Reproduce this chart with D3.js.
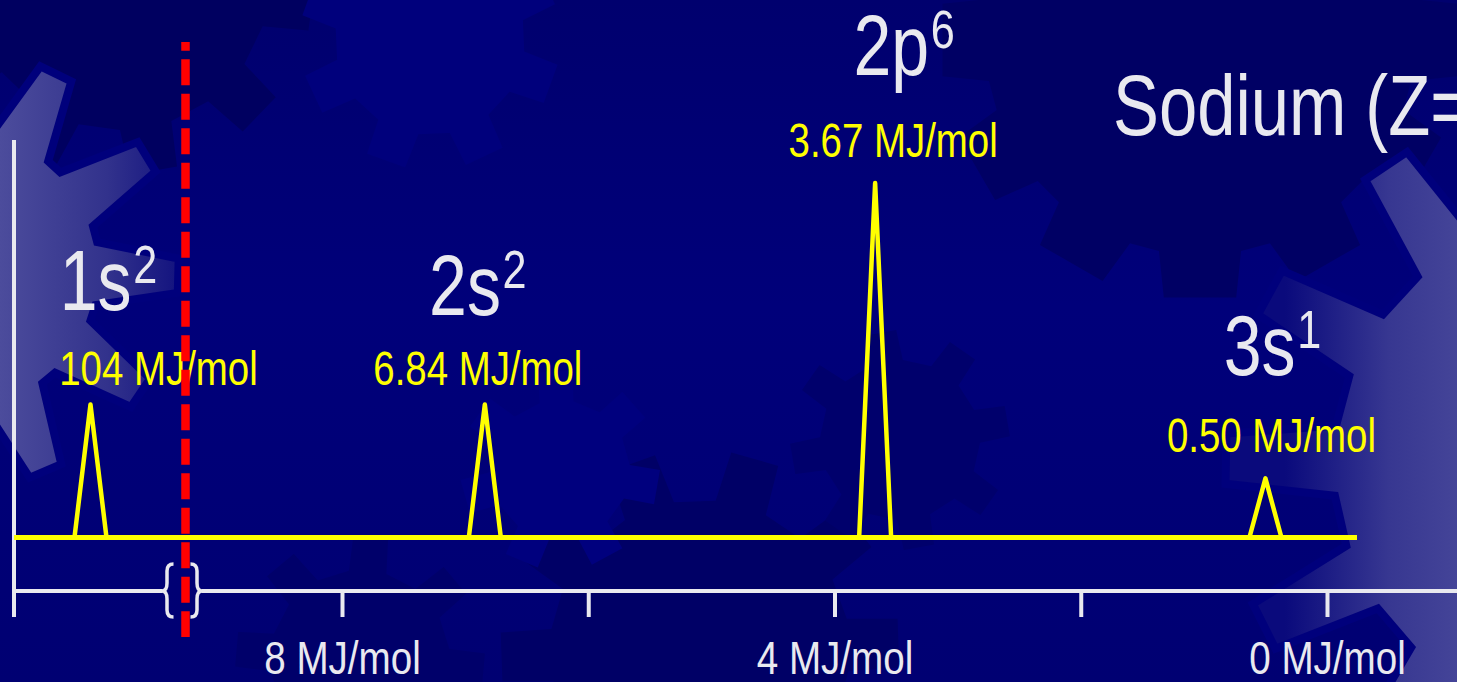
<!DOCTYPE html>
<html>
<head>
<meta charset="utf-8">
<script src="https://cdn.jsdelivr.net/npm/d3@7"></script>
<style>
  html, body { margin: 0; padding: 0; background: #000078; overflow: hidden; }
  svg { display: block; }
</style>
</head>
<body>
<svg id="chart" width="1457" height="682"></svg>
<script>
// Photoelectron spectrum of sodium: one peak per occupied subshell.
const orbitals = ["1s", "2s", "2p", "3s"];
const electrons = [2, 2, 6, 1];
const bindingEnergies = [104, 6.84, 3.67, 0.50];   // MJ/mol
const peakHeights = [2.25, 2.25, 6, 1];            // relative signal
const axisTicks = [8, 6, 4, 2, 0];                  // MJ/mol
const labelledTicks = [8, 4, 0];
const titleText = "Sodium (Z=11)";

const W = 1457, H = 682;
const WHITE = "#e9e9ef", YELLOW = "#ffff00", RED = "#ff0000";
const FONT = "'Liberation Sans', Arial, sans-serif";
const NARROW = 0.8;   // condensed lettering

const svg = d3.select("#chart");
const defs = svg.append("defs");

// ---------- background: navy slide with gear silhouettes ----------
const bg = defs.append("linearGradient").attr("id", "bgGrad")
  .attr("x1", 0).attr("y1", 0).attr("x2", 0).attr("y2", 1);
bg.append("stop").attr("offset", 0).attr("stop-color", "rgb(0,0,110)");
bg.append("stop").attr("offset", 0.45).attr("stop-color", "rgb(0,0,122)");
bg.append("stop").attr("offset", 1).attr("stop-color", "rgb(0,0,114)");

const leftGlow = defs.append("linearGradient").attr("id", "leftGlow")
  .attr("gradientUnits", "userSpaceOnUse").attr("x1", 0).attr("y1", 0).attr("x2", 195).attr("y2", 0);
leftGlow.append("stop").attr("offset", 0).attr("stop-color", "rgb(76,76,156)");
leftGlow.append("stop").attr("offset", 0.55).attr("stop-color", "rgb(50,50,140)");
leftGlow.append("stop").attr("offset", 1).attr("stop-color", "rgb(12,12,124)");

const rightGlow = defs.append("linearGradient").attr("id", "rightGlow")
  .attr("gradientUnits", "userSpaceOnUse").attr("x1", 1285).attr("y1", 0).attr("x2", 1457).attr("y2", 0);
rightGlow.append("stop").attr("offset", 0).attr("stop-color", "rgb(10,10,124)");
rightGlow.append("stop").attr("offset", 0.6).attr("stop-color", "rgb(55,55,145)");
rightGlow.append("stop").attr("offset", 1).attr("stop-color", "rgb(68,68,152)");

svg.append("rect").attr("width", W).attr("height", H).attr("fill", "url(#bgGrad)");

function gearPath(cx, cy, rIn, rOut, teeth, rotDeg, baseHalfDeg, tipHalfDeg) {
  const rad = Math.PI / 180, step = 360 / teeth, pts = [];
  for (let i = 0; i < teeth; i++) {
    const a = rotDeg + i * step;
    pts.push([a - baseHalfDeg, rIn], [a - tipHalfDeg, rOut], [a + tipHalfDeg, rOut], [a + baseHalfDeg, rIn]);
  }
  return d3.line()(pts.map(([a, r]) => [cx + r * Math.cos(a * rad), cy + r * Math.sin(a * rad)])) + "Z";
}

const gears = [
  { cx: 120, cy: -20, rIn: 150, rOut: 195, n: 10, rot: 80, bh: 10, th: 7, fill: "rgb(0,0,96)" },
  { cx: 430, cy: 40, rIn: 95, rOut: 130, n: 8, rot: 20, bh: 13, th: 9, fill: "rgb(0,0,124)" },
  { cx: 1200, cy: 40, rIn: 215, rOut: 260, n: 12, rot: 90, bh: 11, th: 8, fill: "rgb(0,0,100)" },
  { cx: 700, cy: 650, rIn: 150, rOut: 200, n: 10, rot: 250, bh: 10, th: 7, fill: "rgb(0,0,102)" },
  { cx: 560, cy: 470, rIn: 70, rOut: 100, n: 7, rot: 10, bh: 14, th: 10, fill: "rgb(0,0,126)" },
  { cx: 900, cy: 440, rIn: 80, rOut: 110, n: 8, rot: 35, bh: 12, th: 8, fill: "rgb(0,0,108)" },
  { cx: 360, cy: 660, rIn: 90, rOut: 125, n: 8, rot: 5, bh: 12, th: 8, fill: "rgb(0,0,106)" }
];
svg.append("g").selectAll("path").data(gears).join("path")
  .attr("d", g => gearPath(g.cx, g.cy, g.rIn, g.rOut, g.n, g.rot, g.bh, g.th))
  .attr("fill", g => g.fill);

// lighter gears at both edges
svg.append("path")
  .attr("d", gearPath(-40, 270, 140, 219, 11, 1.5, 13, 4.5))
  .attr("fill", "url(#leftGlow)").attr("stroke", "rgb(0,0,124)").attr("stroke-width", 8);
svg.append("path")
  .attr("d", gearPath(1585, 465, 252, 360, 13, 181, 8, 4))
  .attr("fill", "url(#rightGlow)").attr("stroke", "rgb(0,0,124)").attr("stroke-width", 8);

// ---------- scales ----------
const xMain = d3.scaleLinear().domain([8, 0]).range([342, 1327]);          // valence region
const xCore = d3.scaleLinear().domain([104.62, 103.25]).range([14, 183]);  // core region, left of the break
const xOf = e => (e > 50 ? xCore(e) : xMain(e));
const y = d3.scaleLinear().domain([0, 6]).range([537.5, 183]);

const axisY = 591, tickLen = 26;
const breakLeft = 162, breakRight = 202;

// label placement relative to each peak apex
const labelLayout = [
  { valueDx: 68, valueDy: 20, orbitalDx: 18, orbitalDy: 75 },
  { valueDx: -7, valueDy: 20, orbitalDx: -7, orbitalDy: 70 },
  { valueDx: 18, valueDy: 26, orbitalDx: 29, orbitalDy: 82 },
  { valueDx: 6, valueDy: 26, orbitalDx: 7, orbitalDy: 77 }
];

const peaks = orbitals.map((o, i) => ({
  orbital: o, electrons: electrons[i], energy: bindingEnergies[i], height: peakHeights[i],
  layout: labelLayout[i]
}));

// ---------- axes ----------
svg.append("line")
  .attr("x1", 14).attr("x2", 14).attr("y1", 140).attr("y2", axisY + tickLen)
  .attr("stroke", WHITE).attr("stroke-width", 4);

svg.append("line")
  .attr("x1", 14).attr("x2", breakLeft).attr("y1", axisY).attr("y2", axisY)
  .attr("stroke", WHITE).attr("stroke-width", 4);
svg.append("line")
  .attr("x1", breakRight).attr("x2", W).attr("y1", axisY).attr("y2", axisY)
  .attr("stroke", WHITE).attr("stroke-width", 4);

// axis break braces
const braceTop = 564, braceBot = 617;
const leftBrace = `M173.5,${braceTop} Q167,${braceTop} 167,${braceTop + 7} L167,${axisY - 8} Q167,${axisY} ${breakLeft},${axisY} Q167,${axisY} 167,${axisY + 8} L167,${braceBot - 7} Q167,${braceBot} 173.5,${braceBot}`;
const rightBrace = `M190.5,${braceTop} Q197,${braceTop} 197,${braceTop + 7} L197,${axisY - 8} Q197,${axisY} ${breakRight},${axisY} Q197,${axisY} 197,${axisY + 8} L197,${braceBot - 7} Q197,${braceBot} 190.5,${braceBot}`;
svg.append("g").selectAll("path").data([leftBrace, rightBrace]).join("path")
  .attr("d", d => d).attr("fill", "none").attr("stroke", WHITE).attr("stroke-width", 3.5);

const xAxis = d3.axisBottom(xMain)
  .tickValues(axisTicks)
  .tickSize(tickLen)
  .tickFormat(d => (labelledTicks.includes(d) ? `${d} MJ/mol` : ""));
const gx = svg.append("g").attr("transform", `translate(0,${axisY})`).call(xAxis);
gx.select(".domain").remove();
gx.attr("font-family", FONT).attr("font-size", 46);
gx.selectAll(".tick line").attr("stroke", WHITE).attr("stroke-width", 4);
gx.selectAll(".tick text")
  .attr("y", 83).attr("dy", 0).attr("fill", WHITE)
  .attr("transform", "scale(0.84,1)");

// ---------- spectrum ----------
const baseY = y(0);
svg.append("line")
  .attr("x1", 14).attr("x2", 1357).attr("y1", baseY).attr("y2", baseY)
  .attr("stroke", YELLOW).attr("stroke-width", 5);

const halfWidth = 16;
svg.append("g").selectAll("path").data(peaks).join("path")
  .attr("d", p => d3.line()([[xOf(p.energy) - halfWidth, baseY], [xOf(p.energy), y(p.height)], [xOf(p.energy) + halfWidth, baseY]]))
  .attr("fill", "none").attr("stroke", YELLOW).attr("stroke-width", 4.5)
  .attr("stroke-linejoin", "round");

// ---------- labels ----------
const fmtEnergy = e => (e >= 100 ? d3.format(".0f")(e) : d3.format(".2f")(e));
const valueY = p => y(p.height) - p.layout.valueDy;

svg.append("g").selectAll("text").data(peaks).join("text")
  .attr("transform", p => `translate(${xOf(p.energy) + p.layout.valueDx},${valueY(p)}) scale(${NARROW},1)`)
  .attr("text-anchor", "middle")
  .attr("font-family", FONT).attr("font-size", 48)
  .attr("fill", YELLOW)
  .text(p => `${fmtEnergy(p.energy)} MJ/mol`);

const orbText = svg.append("g").selectAll("text").data(peaks).join("text")
  .attr("transform", p => `translate(${xOf(p.energy) + p.layout.orbitalDx},${valueY(p) - p.layout.orbitalDy}) scale(${NARROW},1)`)
  .attr("text-anchor", "middle")
  .attr("font-family", FONT).attr("font-size", 85)
  .attr("fill", WHITE);
orbText.append("tspan").text(p => p.orbital);
orbText.append("tspan").attr("font-size", 54).attr("dy", -27).attr("dx", 2).text(p => p.electrons);

svg.append("text")
  .attr("transform", `translate(1113,135) scale(${NARROW},1)`)
  .attr("font-family", FONT).attr("font-size", 86)
  .attr("fill", WHITE)
  .text(titleText);

// ---------- marker separating core from valence electrons ----------
svg.append("line")
  .attr("x1", 185.5).attr("x2", 185.5).attr("y1", 42).attr("y2", 637)
  .attr("stroke", RED).attr("stroke-width", 8.5)
  .attr("stroke-dasharray", "26 8.5").attr("stroke-dashoffset", 17.3);
</script>
</body>
</html>
